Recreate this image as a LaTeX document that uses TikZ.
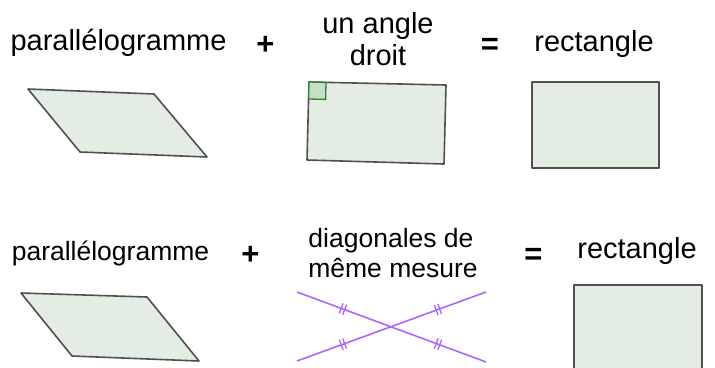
\documentclass[tikz,border=0pt]{standalone}
\usepackage{fontspec}
\setmainfont{Liberation Sans}
\usetikzlibrary{decorations.markings}
\definecolor{shapefill}{RGB}{227,237,228}
\definecolor{shapeline}{RGB}{80,80,80}
\definecolor{anglefill}{RGB}{200,222,200}
\definecolor{angleline}{RGB}{46,130,46}
\definecolor{diagcol}{RGB}{175,100,255}
\tikzset{
  shapebox/.style={fill=shapefill, draw=shapeline, line width=1.6pt, line join=round},
  bigtxt/.style={anchor=base, inner sep=0pt, font=\fontsize{29}{29}\selectfont},
  smalltxt/.style={anchor=base, inner sep=0pt, font=\fontsize{26.5}{26.5}\selectfont},
  optxt/.style={anchor=base, inner sep=0pt, font=\fontsize{31}{31}\selectfont\bfseries},
  diagline/.style={draw=diagcol, line width=1.6pt,
    postaction={decorate, decoration={markings,
      mark=at position 0.243 with {\draw[diagcol, line width=1.3pt] (-1.8,-5.5) -- (-1.8,5.5) (1.8,-5.5) -- (1.8,5.5);},
      mark=at position 0.746 with {\draw[diagcol, line width=1.3pt] (-1.8,-5.5) -- (-1.8,5.5) (1.8,-5.5) -- (1.8,5.5);}}}},
}
\begin{document}
\begin{tikzpicture}[x=1pt,y=-1pt]
\useasboundingbox (0,0) rectangle (715,367);
% row 1 texts
\node[bigtxt] (p1) at (118.5,50) {parallélogramme};
\node[optxt] (plus1) at (265.5,54) {+};
\node[bigtxt] (a1) at (378,33) {un angle};
\node[bigtxt] (a2) at (378,65) {droit};
\node[optxt] (eq1) at (490,54) {=};
\node[bigtxt] (r1) at (594,51) {rectangle};
% row 1 shapes
\draw[shapebox] (28,89) -- (154,94) -- (207,157) -- (80,152) -- cycle;
\draw[shapebox] (309,82) -- (446,85) -- (444,164) -- (307,160) -- cycle;
\draw[fill=anglefill, draw=angleline, line width=1.3pt] (309,82) -- (326,82.4) -- (325.6,99.4) -- (308.6,99) -- cycle;
\draw[shapebox] (532,82) rectangle (659,168);
% row 2 texts
\node[smalltxt] (p2) at (110.5,260) {parallélogramme};
\node[optxt] (plus2) at (250.5,264.5) {+};
\node[smalltxt] (d1) at (391,247) {diagonales de};
\node[smalltxt] (d2) at (393,277) {même mesure};
\node[optxt] (eq2) at (533.5,264) {=};
\node[bigtxt] (r2) at (637,258) {rectangle};
% row 2 shapes
\draw[shapebox] (21,293) -- (147,297) -- (199,361) -- (72,356) -- cycle;
\coordinate (l1a) at (297,292);
\coordinate (l1b) at (486,362);
\coordinate (l2a) at (297,361);
\coordinate (l2b) at (486,292);
\draw[diagline] (l1a) -- (l1b);
\draw[diagline] (l2a) -- (l2b);
\fill[shapefill] (574,285) rectangle (702,370);
\draw[draw=shapeline, line width=1.6pt, line join=round] (574,370) -- (574,285) -- (702,285) -- (702,370);
\end{tikzpicture}
\end{document}
